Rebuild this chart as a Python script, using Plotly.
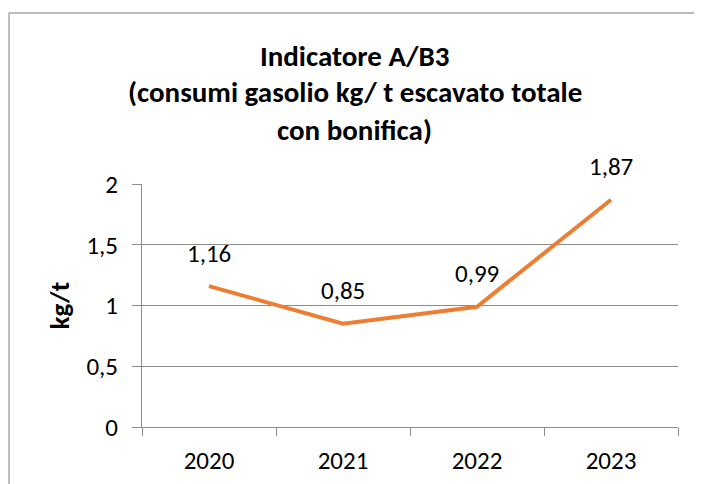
import plotly.graph_objects as go

# data
years = ["2020", "2021", "2022", "2023"]
consumo_kg_t = [1.16, 0.85, 0.99, 1.87]
y_ticks = [0, 0.5, 1, 1.5, 2]
y_tick_labels = ["0", "0,5", "1", "1,5", "2"]

title_lines = [
    "Indicatore A/B3",
    "(consumi gasolio kg/ t escavato totale",
    "con bonifica)",
]
y_title = "kg/t"

FONT = "Carlito, Calibri, Lato, sans-serif"
GRID = "#8c8c8c"
TXT = "#000000"

fig = go.Figure()

fig.add_trace(
    go.Scatter(
        x=years,
        y=consumo_kg_t,
        mode="lines",
        line=dict(color="#ED7D31", width=4),
        hoverinfo="skip",
        showlegend=False,
    )
)

# data labels above each point
for i, val in enumerate(consumo_kg_t):
    fig.add_annotation(
        x=i,
        y=val,
        xref="x",
        yref="y",
        text=f"{val:.2f}".replace(".", ","),
        showarrow=False,
        yshift=33,
        font=dict(family=FONT, size=25, color=TXT),
    )

# title, one annotation per line so the spacing can be set
for line, ypos in zip(title_lines, [1.528, 1.379, 1.222]):
    fig.add_annotation(
        x=0.397,
        y=ypos,
        xref="paper",
        yref="paper",
        text=f"<b>{line}</b>",
        showarrow=False,
        xanchor="center",
        yanchor="middle",
        font=dict(family=FONT, size=29, color=TXT),
    )

# y axis title
fig.add_annotation(
    x=-0.153,
    y=0.5,
    xref="paper",
    yref="paper",
    text=f"<b>{y_title}</b>",
    textangle=-90,
    showarrow=False,
    xanchor="center",
    yanchor="middle",
    font=dict(family=FONT, size=27, color=TXT),
)

# chart border (cropped on the right and bottom like the original)
fig.add_shape(
    type="rect",
    xref="paper",
    yref="paper",
    x0=-0.248,
    x1=1.3,
    y0=-0.5,
    y1=1.704,
    line=dict(color="#a6a6a6", width=1.5),
    layer="below",
)

# the page has an 8px body margin, so the figure is 8px smaller
fig.update_layout(
    width=694,
    height=476,
    margin=dict(l=134, r=24, t=176, b=57),
    paper_bgcolor="white",
    plot_bgcolor="white",
    separators=",.",
    font=dict(family=FONT, size=25, color=TXT),
)

fig.update_xaxes(
    type="category",
    range=[-0.5, 3.5],
    automargin=False,
    showgrid=False,
    showline=True,
    linecolor=GRID,
    linewidth=1,
    ticks="outside",
    tickson="boundaries",
    ticklen=8,
    tickcolor=GRID,
    ticklabelstandoff=11,
    tickfont=dict(family=FONT, size=25, color=TXT),
)

fig.update_yaxes(
    range=[0, 2],
    tickvals=y_ticks,
    ticktext=y_tick_labels,
    automargin=False,
    showgrid=True,
    gridcolor=GRID,
    gridwidth=1,
    zeroline=False,
    showline=True,
    linecolor=GRID,
    linewidth=1,
    ticks="outside",
    ticklen=9,
    tickcolor=GRID,
    ticklabelstandoff=9,
    tickfont=dict(family=FONT, size=25, color=TXT),
)

fig.write_html("out.html")
